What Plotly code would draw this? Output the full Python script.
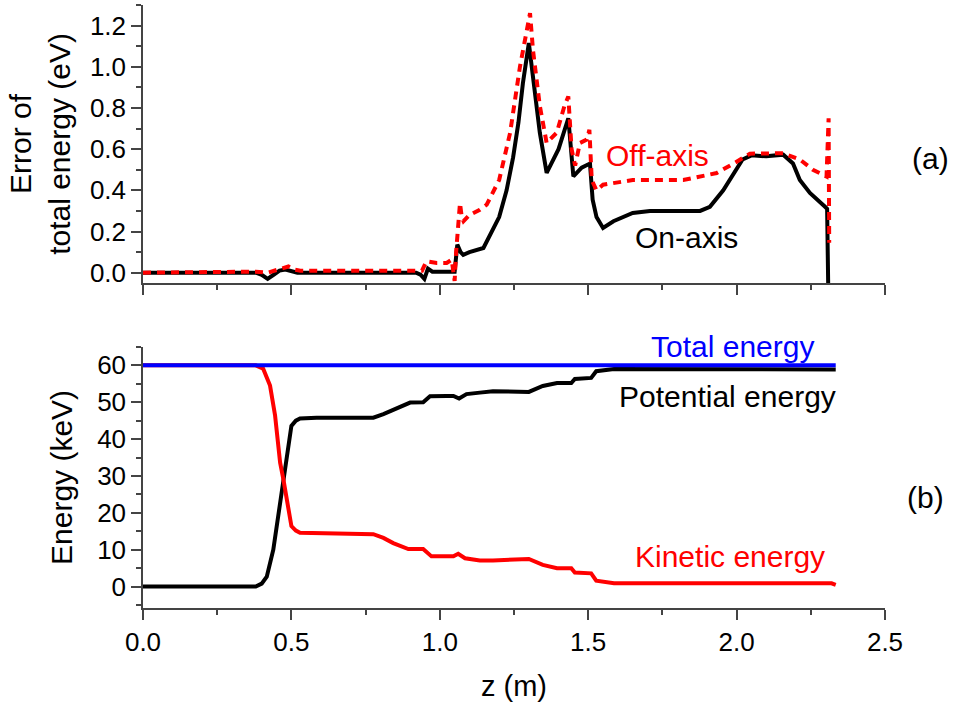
import plotly.graph_objects as go
from plotly.subplots import make_subplots

# ---- Panel (a): error of total energy (eV) ----
z_on = [0.00, 0.38, 0.40, 0.42, 0.44, 0.46, 0.48, 0.52, 0.92, 0.935, 0.948, 0.96, 0.975, 1.05, 1.059,
        1.07, 1.079, 1.10, 1.147, 1.17, 1.20, 1.225, 1.247, 1.265, 1.28, 1.30, 1.315, 1.337, 1.36, 1.40,
        1.433, 1.45, 1.478, 1.506, 1.515, 1.528, 1.55, 1.585, 1.65, 1.708, 1.877, 1.91, 1.955, 1.99,
        2.02, 2.05, 2.10, 2.157, 2.19, 2.213, 2.247, 2.298, 2.305, 2.309]
e_on = [0.0, 0.0, -0.01, -0.03, -0.01, 0.01, 0.015, 0.0, 0.0, -0.01, -0.03, 0.02, 0.005, 0.005, 0.136,
        0.10, 0.087, 0.10, 0.12, 0.19, 0.27, 0.40, 0.56, 0.73, 0.92, 1.115, 0.95, 0.68, 0.485, 0.60,
        0.75, 0.468, 0.51, 0.53, 0.354, 0.27, 0.217, 0.25, 0.29, 0.30, 0.30, 0.32, 0.40, 0.485,
        0.55, 0.57, 0.565, 0.573, 0.53, 0.45, 0.387, 0.32, 0.31, -0.10]

z_off = [0.00, 0.38, 0.42, 0.44, 0.47, 0.49, 0.51, 0.53, 0.94, 0.955, 0.99, 1.023, 1.04, 1.05, 1.055,
         1.065, 1.068, 1.074, 1.08, 1.10, 1.135, 1.158, 1.20, 1.237, 1.27, 1.304, 1.314, 1.337, 1.36,
         1.394, 1.42, 1.433, 1.444, 1.456, 1.472, 1.495, 1.504, 1.512, 1.528, 1.55, 1.65, 1.82, 1.933,
         1.99, 2.045, 2.157, 2.213, 2.257, 2.303, 2.310, 2.312]
e_off = [0.0, 0.005, 0.0, 0.01, 0.02, 0.03, 0.015, 0.01, 0.01, 0.055, 0.047, 0.047, 0.063, -0.04, 0.10,
         0.30, 0.338, 0.27, 0.25, 0.28, 0.306, 0.33, 0.45, 0.68, 1.00, 1.26, 1.08, 0.81, 0.63,
         0.68, 0.81, 0.856, 0.60, 0.52, 0.63, 0.646, 0.694, 0.45, 0.40, 0.427, 0.45, 0.45, 0.484,
         0.53, 0.578, 0.58, 0.55, 0.50, 0.467, 0.75, 0.145]

# ---- Panel (b): energies (keV) ----
z_total = [0.0, 0.5, 1.0, 1.5, 2.0, 2.334]
e_total = [60.0, 60.0, 60.0, 60.0, 60.0, 60.0]

z_pot = [0.00, 0.38, 0.40, 0.417, 0.439, 0.462, 0.473, 0.49, 0.50, 0.515, 0.529, 0.585, 0.776, 0.81,
         0.843, 0.87, 0.90, 0.944, 0.967, 1.023, 1.046, 1.065, 1.09, 1.135, 1.179, 1.30, 1.325, 1.347,
         1.395, 1.443, 1.455, 1.51, 1.527, 1.587, 2.334]
e_pot = [0.0, 0.0, 0.8, 2.7, 10.0, 22.7, 30.0, 38.2, 43.6, 45.0, 45.6, 45.8, 45.8, 46.8,
         48.0, 49.0, 49.9, 50.0, 51.6, 51.7, 51.7, 51.0, 52.2, 52.6, 53.0, 52.8, 53.6, 54.4,
         55.2, 55.2, 56.3, 56.6, 58.4, 59.0, 58.9]

z_kin = [0.00, 0.38, 0.405, 0.428, 0.445, 0.462, 0.473, 0.49, 0.50, 0.515, 0.529, 0.776, 0.81, 0.843,
         0.894, 0.944, 0.972, 1.023, 1.046, 1.062, 1.085, 1.135, 1.179, 1.30, 1.347, 1.395, 1.443,
         1.455, 1.51, 1.527, 1.587, 2.32, 2.334]
e_kin = [60.0, 60.0, 59.1, 54.5, 46.4, 33.6, 29.1, 20.9, 16.4, 15.2, 14.6, 14.2, 13.2, 11.8,
         10.2, 10.2, 8.2, 8.2, 8.2, 8.9, 7.7, 7.1, 7.1, 7.5, 5.9, 5.0, 5.0,
         3.8, 3.6, 1.6, 0.9, 0.9, 0.5]

x_ticks = [0.0, 0.5, 1.0, 1.5, 2.0, 2.5]
x_ticklabels = ["0.0", "0.5", "1.0", "1.5", "2.0", "2.5"]
ya_ticks = [0.0, 0.2, 0.4, 0.6, 0.8, 1.0, 1.2]
ya_ticklabels = ["0.0", "0.2", "0.4", "0.6", "0.8", "1.0", "1.2"]
yb_ticks = [0, 10, 20, 30, 40, 50, 60]

FONT = "Arial, Liberation Sans, sans-serif"
AX = "#444444"

fig = make_subplots(rows=2, cols=1, shared_xaxes=False)

fig.add_trace(go.Scatter(x=z_on, y=e_on, mode="lines", line=dict(color="black", width=4),
                         name="On-axis", showlegend=False), row=1, col=1)
fig.add_trace(go.Scatter(x=z_off, y=e_off, mode="lines",
                         line=dict(color="#ff0000", width=4, dash="8px,6px"),
                         name="Off-axis", showlegend=False), row=1, col=1)

fig.add_trace(go.Scatter(x=z_pot, y=e_pot, mode="lines", line=dict(color="black", width=4),
                         name="Potential energy", showlegend=False), row=2, col=1)
fig.add_trace(go.Scatter(x=z_kin, y=e_kin, mode="lines", line=dict(color="#ff0000", width=4),
                         name="Kinetic energy", showlegend=False), row=2, col=1)
fig.add_trace(go.Scatter(x=z_total, y=e_total, mode="lines", line=dict(color="#0000ff", width=4),
                         name="Total energy", showlegend=False), row=2, col=1)

common_axis = dict(showgrid=False, zeroline=False, showline=True, linecolor=AX, linewidth=1.5,
                   ticks="outside", ticklen=10, tickwidth=1.5, tickcolor=AX,
                   tickfont=dict(family=FONT, size=26, color="black"))

fig.update_xaxes(**common_axis, range=[0, 2.5], tickvals=x_ticks, ticktext=x_ticklabels,
                 minor=dict(ticks="outside", ticklen=5, tickwidth=1.5, tickcolor=AX, dtick=0.25, tick0=0))
fig.update_xaxes(showticklabels=False, row=1, col=1)
fig.update_xaxes(title=dict(text="z (m)", font=dict(family=FONT, size=29, color="black"), standoff=20),
                 row=2, col=1)

fig.update_yaxes(**common_axis)
fig.update_yaxes(range=[-0.05, 1.3], tickvals=ya_ticks, ticktext=ya_ticklabels,
                 minor=dict(ticks="outside", ticklen=5, tickwidth=1.5, tickcolor=AX, dtick=0.1, tick0=0),
                 title=dict(text="Error of<br>total energy (eV)",
                            font=dict(family=FONT, size=30, color="black"), standoff=10),
                 row=1, col=1)
fig.update_yaxes(range=[-5.8, 65], tickvals=yb_ticks,
                 minor=dict(ticks="outside", ticklen=5, tickwidth=1.5, tickcolor=AX, dtick=5, tick0=0),
                 title=dict(text="Energy (keV)", font=dict(family=FONT, size=30, color="black"), standoff=16),
                 row=2, col=1)

fig.layout.yaxis.domain = [0.539, 1.0]
fig.layout.yaxis2.domain = [0.0, 0.433]

# annotation positions in paper fractions of the plot area (x: 0..1 over 0..2.5 m)
ann_font = dict(family=FONT, size=30)
annotations = [
    dict(text="Off-axis", x=0.694, y=0.751, font=dict(**ann_font, color="#ff0000")),
    dict(text="On-axis", x=0.732, y=0.615, font=dict(**ann_font, color="black")),
    dict(text="Total energy", x=0.795, y=0.433, font=dict(**ann_font, color="#0000ff")),
    dict(text="Potential energy", x=0.788, y=0.350, font=dict(**ann_font, color="black")),
    dict(text="Kinetic energy", x=0.791, y=0.085, font=dict(**ann_font, color="#ff0000")),
    dict(text="(a)", x=1.061, y=0.746, font=dict(**ann_font, color="black")),
    dict(text="(b)", x=1.054, y=0.184, font=dict(**ann_font, color="black")),
]
for a in annotations:
    a.update(showarrow=False, xanchor="center", yanchor="middle", xref="paper", yref="paper")
fig.update_layout(annotations=annotations)

fig.update_layout(width=954, height=706, margin=dict(l=143, r=69, t=5, b=98, autoexpand=False),
                  plot_bgcolor="white", paper_bgcolor="white",
                  font=dict(family=FONT, color="black"), showlegend=False)

fig.write_html("out.html", config={"displayModeBar": False},
               post_script="document.body.style.margin='0';")
